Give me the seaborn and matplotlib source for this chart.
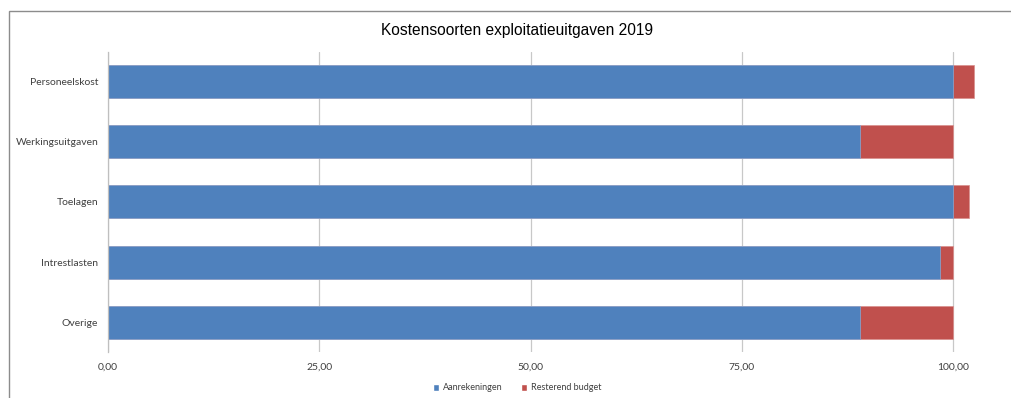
import matplotlib
matplotlib.use("Agg")
import matplotlib.pyplot as plt
from matplotlib.patches import Rectangle, Patch
import seaborn as sns
import pandas as pd

categories = ["Personeelskost", "Werkingsuitgaven", "Toelagen", "Intrestlasten", "Overige"]
aanrekeningen = [100.0, 89.0, 100.0, 98.5, 89.0]
resterend = [2.5, 11.0, 1.9, 1.5, 11.0]
xticks = [0, 25, 50, 75, 100]
xtick_labels = ["0,00", "25,00", "50,00", "75,00", "100,00"]

blue = "#4F81BD"
red = "#C0504D"

df = pd.DataFrame({
    "categorie": categories,
    "Aanrekeningen": aanrekeningen,
    "Resterend budget": resterend,
})
df["totaal"] = df["Aanrekeningen"] + df["Resterend budget"]

sns.set_style("white")
plt.rcParams["font.family"] = ["Lato", "DejaVu Sans"]

fig = plt.figure(figsize=(10.11, 3.98), dpi=100)
ax = fig.add_axes([108 / 1011, 46 / 398, (1000 - 108) / 1011, 300 / 398])

# stacked bars: total (red) underneath, Aanrekeningen (blue) on top
sns.barplot(data=df, y="categorie", x="totaal", orient="h", color=red,
            saturation=1, width=0.55, ax=ax, edgecolor="#D9908E", linewidth=0.5)
sns.barplot(data=df, y="categorie", x="Aanrekeningen", orient="h", color=blue,
            saturation=1, width=0.55, ax=ax, edgecolor="#8AAAD4", linewidth=0.5)

ax.set_xlim(0, (1000 - 108) / 8.45)
ax.set_ylim(4.5, -0.5)
ax.set_xticks(xticks)
ax.set_xticklabels(xtick_labels, fontsize=7.5, color="#404040")
ax.tick_params(axis="y", labelsize=7.5, labelcolor="#404040", length=0, pad=7)
ax.tick_params(axis="x", length=0, pad=8)
ax.set_xlabel("")
ax.set_ylabel("")
ax.set_axisbelow(True)
ax.grid(axis="x", color="#C8C8C8", linewidth=0.9)
ax.grid(axis="y", visible=False)
for s in ["top", "right", "bottom"]:
    ax.spines[s].set_visible(False)
ax.spines["left"].set_color("#BFBFBF")
ax.spines["left"].set_linewidth(0.9)

fig.text(517 / 1011, 1 - 30 / 398, "Kostensoorten exploitatieuitgaven 2019",
         ha="center", va="center", fontsize=11.2, color="#000000",
         family=["Liberation Sans", "DejaVu Sans"])

handles = [Patch(facecolor=blue, label="Aanrekeningen"),
           Patch(facecolor=red, label="Resterend budget")]
fig.legend(handles=handles, loc="center", bbox_to_anchor=(517 / 1011, 1 - 388 / 398),
           ncol=2, frameon=False, fontsize=6.5, handlelength=0.7, handleheight=0.7,
           handletextpad=0.4, columnspacing=2.0, labelcolor="#404040")

# chart border
fig.patches.append(Rectangle((9 / 1011, -0.1), 1.2, 1.1 - 11 / 398,
                             transform=fig.transFigure, fill=False,
                             edgecolor="#8C8C8C", linewidth=1.0, clip_on=False))

fig.savefig("out.png", dpi=100)
